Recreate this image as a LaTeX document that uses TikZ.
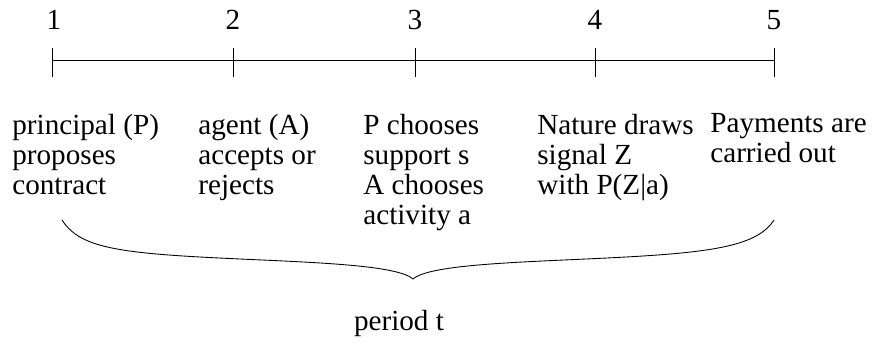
\documentclass[tikz,border=0pt]{standalone}
\usepackage{fontspec}
\setmainfont{Liberation Serif}
\usetikzlibrary{positioning}

\begin{document}
\begin{tikzpicture}[
		event/.style={anchor=north west, align=left, inner sep=0pt, font=\fontsize{16.6}{17.07}\selectfont},
		num/.style={inner sep=0pt, font=\fontsize{16.6}{17.07}\selectfont},
		tickmark/.style={line width=0.5pt},
	]
	\useasboundingbox (0,0) rectangle (17.66,-6.86);

	% time axis
	\coordinate (t1) at (1.04,-1.2);
	\coordinate (t2) at (4.66,-1.2);
	\coordinate (t3) at (8.30,-1.2);
	\coordinate (t4) at (11.90,-1.2);
	\coordinate (t5) at (15.48,-1.2);
	\draw [line width=0.5pt] (t1) -- (t5);
	\foreach \i in {1,...,5}
		\draw [tickmark] (t\i) ++(0,0.24) -- ++(0,-0.58);

	\node[num] (n1) at (1.08,-0.40) {1};
	\node[num] (n2) at (4.66,-0.40) {2};
	\node[num] (n3) at (8.30,-0.40) {3};
	\node[num] (n4) at (11.90,-0.40) {4};
	\node[num] (n5) at (15.48,-0.40) {5};

	% events
	\node[event] (e1) at (0.24,-2.27) {principal (P)\\proposes\\contract};
	\node[event] (e2) at (3.96,-2.27) {agent (A)\\accepts or\\rejects};
	\node[event] (e3) at (7.26,-2.27) {P chooses\\support s\\A chooses\\activity a};
	\node[event] (e4) at (10.74,-2.27) {Nature draws\\signal Z\\with P(Z|a)};
	\node[event] (e5) at (14.20,-2.27) {Payments are\\carried out};

	% brace
	\coordinate (bl) at (1.24,-4.40);
	\coordinate (btip) at (8.26,-5.58);
	\coordinate (br) at (15.48,-4.40);
	\draw [line width=0.5pt] (bl) .. controls (1.56,-4.90) and (2.20,-5.04) .. (4.00,-5.14)
		.. controls (5.80,-5.24) and (7.90,-5.26) .. (btip)
		.. controls (8.62,-5.26) and (10.72,-5.24) .. (12.52,-5.14)
		.. controls (14.32,-5.04) and (15.16,-4.90) .. (br);

	\node[num, anchor=base] (period) at (7.98,-6.60) {period t};
\end{tikzpicture}
\end{document}
